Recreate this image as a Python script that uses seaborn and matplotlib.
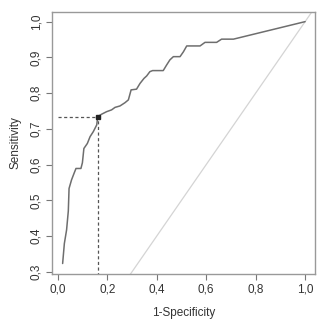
import matplotlib
matplotlib.use("Agg")
import matplotlib.pyplot as plt
import seaborn as sns
import pandas as pd

sns.set_theme(style="white")
plt.rcParams['font.family'] = ['Liberation Sans', 'DejaVu Sans']

fpr = [0.019, 0.026, 0.035, 0.042, 0.045, 0.055, 0.065, 0.073, 0.093, 0.099, 0.105,
       0.119, 0.130, 0.143, 0.157, 0.161, 0.177, 0.197, 0.217, 0.231, 0.251, 0.271,
       0.285, 0.296, 0.318, 0.332, 0.348, 0.359, 0.372, 0.383, 0.426, 0.440, 0.453,
       0.467, 0.494, 0.508, 0.521, 0.575, 0.595, 0.642, 0.662, 0.710, 1.000]
tpr = [0.323, 0.379, 0.417, 0.470, 0.533, 0.557, 0.575, 0.589, 0.589, 0.605, 0.645,
       0.659, 0.678, 0.692, 0.711, 0.734, 0.741, 0.748, 0.753, 0.760, 0.764, 0.773,
       0.781, 0.809, 0.811, 0.827, 0.841, 0.848, 0.860, 0.863, 0.863, 0.879, 0.893,
       0.902, 0.902, 0.916, 0.932, 0.932, 0.942, 0.942, 0.951, 0.951, 1.000]
cut_x = 0.161
cut_y = 0.734
xticks = [0.0, 0.2, 0.4, 0.6, 0.8, 1.0]
yticks = [0.3, 0.4, 0.5, 0.6, 0.7, 0.8, 0.9, 1.0]

df = pd.DataFrame({"fpr": fpr, "tpr": tpr})

fig = plt.figure(figsize=(3.27, 3.31), dpi=100)
ax = fig.add_axes([52/327, 1 - 274/331, (315-52)/327, (274-12)/331])

ax.plot([-0.1, 1.1], [-0.1, 1.1], color="#d4d4d4", lw=0.9, zorder=1)
sns.lineplot(data=df, x="fpr", y="tpr", ax=ax, color="#6e6e6e", lw=1.1,
             sort=False, estimator=None, zorder=3)
ax.plot([0, cut_x], [cut_y, cut_y], color="#555555", lw=0.9, ls=(0, (2.5, 2)), zorder=2)
ax.plot([cut_x, cut_x], [0, cut_y], color="#555555", lw=0.9, ls=(0, (2.5, 2)), zorder=2)
ax.plot([cut_x], [cut_y], marker="s", ms=2.2, color="#222222", zorder=4)

ax.set_xlim(-0.024, 1.04)
ax.set_ylim(0.2936, 1.027)
ax.set_xticks(xticks)
ax.set_xticklabels([f"{v:.1f}".replace(".", ",") for v in xticks])
ax.set_yticks(yticks)
ax.set_yticklabels([f"{v:.1f}".replace(".", ",") for v in yticks], rotation=90, va="center")
ax.tick_params(axis="both", which="both", direction="out", length=4, width=0.8,
               color="#777777", labelsize=8.5, labelcolor="#333333", pad=3,
               left=True, bottom=True)
for s in ax.spines.values():
    s.set_color("#999999")
    s.set_linewidth(1.0)
ax.set_xlabel("1-Specificity", fontsize=8.5, color="#333333", labelpad=8)
ax.set_ylabel("Sensitivity", fontsize=8.5, color="#333333", labelpad=6)

fig.savefig("out.png", dpi=100)
